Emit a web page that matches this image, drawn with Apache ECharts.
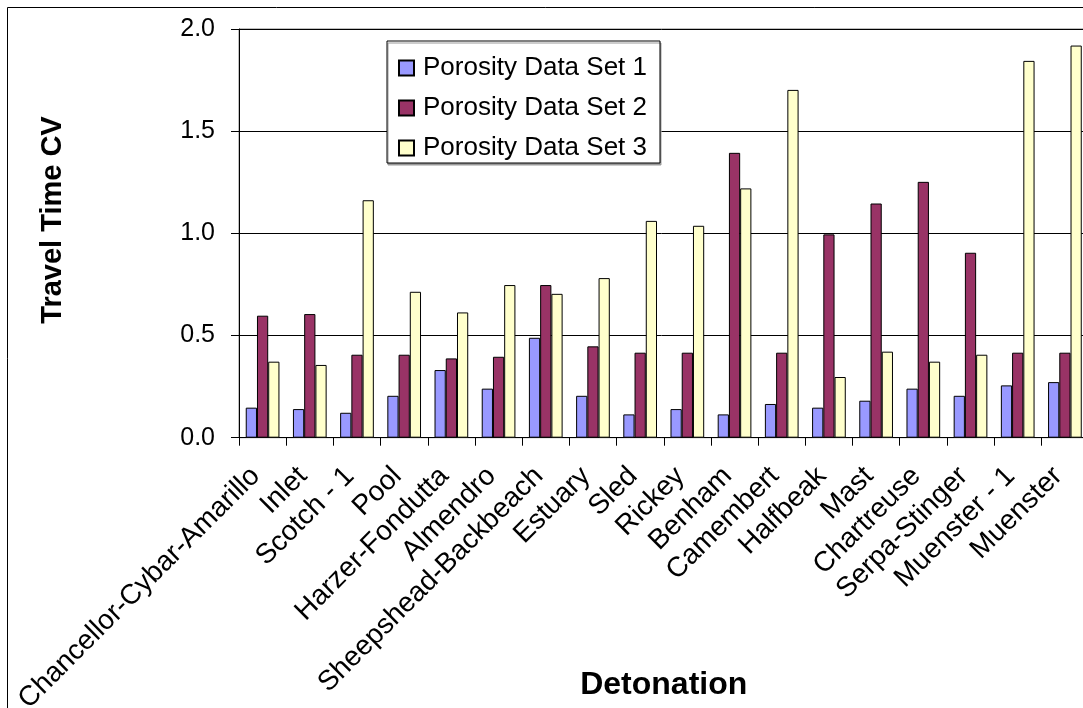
<!DOCTYPE html>
<html>
<head>
<meta charset="utf-8">
<script src="https://cdn.jsdelivr.net/npm/echarts@6/dist/echarts.min.js"></script>
<style>
  html, body { margin: 0; padding: 0; background: #fff; overflow: hidden; }
  #chart { width: 1083px; height: 708px; }
</style>
</head>
<body>
<div id="chart"></div>
<script>
// Detonation names along the category axis
const detonations = [
  'Chancellor-Cybar-Amarillo', 'Inlet', 'Scotch - 1', 'Pool', 'Harzer-Fondutta',
  'Almendro', 'Sheepshead-Backbeach', 'Estuary', 'Sled', 'Rickey', 'Benham',
  'Camembert', 'Halfbeak', 'Mast', 'Chartreuse', 'Serpa-Stinger', 'Muenster - 1', 'Muenster'
];

// Travel time coefficient of variation per porosity data set
const porositySet1 = [0.147, 0.140, 0.122, 0.205, 0.331, 0.240, 0.489, 0.205, 0.114, 0.140, 0.114, 0.165, 0.147, 0.181, 0.240, 0.205, 0.256, 0.272];
const porositySet2 = [0.597, 0.605, 0.406, 0.406, 0.388, 0.396, 0.747, 0.447, 0.416, 0.416, 1.394, 0.416, 0.995, 1.146, 1.252, 0.905, 0.416, 0.416];
const porositySet3 = [0.372, 0.356, 1.162, 0.714, 0.613, 0.747, 0.704, 0.781, 1.061, 1.037, 1.220, 1.702, 0.297, 0.421, 0.372, 0.406, 1.844, 1.919];

const seriesNames = ['Porosity Data Set 1', 'Porosity Data Set 2', 'Porosity Data Set 3'];
const seriesColors = ['#9999FF', '#993366', '#FFFFCC'];

// Value axis ticks
const yMin = 0, yMax = 2, yStep = 0.5;

const FONT = '"Liberation Sans", Arial, Helvetica, sans-serif';

const chart = echarts.init(document.getElementById('chart'), null, { renderer: 'canvas' });

function barSeries(name, data, color) {
  return {
    name: name,
    type: 'bar',
    data: data,
    barGap: '0%',
    barCategoryGap: '28.6%',
    itemStyle: { color: color, borderColor: '#000', borderWidth: 1 },
    emphasis: { disabled: true },
    animation: false
  };
}

chart.setOption({
  backgroundColor: '#fff',
  animation: false,
  textStyle: { fontFamily: FONT },
  grid: {
    left: 239,
    top: 29,
    right: -5.5,
    bottom: 270.3,
    containLabel: false,
    outerBoundsMode: 'none',
    show: true,
    borderColor: '#808080',
    borderWidth: 1,
    backgroundColor: 'transparent'
  },
  legend: {
    orient: 'vertical',
    left: 387,
    top: 41,
    padding: [12, 13, 0, 11],
    itemWidth: 15,
    itemHeight: 15,
    itemGap: 10,
    icon: 'rect',
    backgroundColor: '#fff',
    borderColor: '#000',
    borderWidth: 1,
    shadowColor: '#9a9a9a',
    shadowBlur: 0,
    shadowOffsetX: 1,
    shadowOffsetY: 2,
    selectedMode: false,
    textStyle: {
      fontFamily: FONT,
      fontSize: 26,
      color: '#000',
      lineHeight: 30,
      padding: [0, 0, 0, 4]
    },
    data: seriesNames
  },
  xAxis: {
    type: 'category',
    data: detonations,
    boundaryGap: true,
    name: 'Detonation',
    nameLocation: 'middle',
    nameGap: 231,
    nameMoveOverlap: false,
    nameTextStyle: { fontFamily: FONT, fontSize: 32, fontWeight: 'bold', color: '#000' },
    axisLine: { show: true, lineStyle: { color: '#000', width: 1 } },
    axisTick: { show: true, inside: false, length: 8, lineStyle: { color: '#000' } },
    axisLabel: {
      interval: 0,
      rotate: 45,
      margin: 27,
      padding: [0, 10, 0, 0],
      fontFamily: FONT,
      fontSize: 28,
      color: '#000'
    },
    splitLine: { show: false }
  },
  yAxis: {
    type: 'value',
    min: yMin,
    max: yMax,
    interval: yStep,
    axisLine: { show: true, lineStyle: { color: '#000', width: 1 } },
    axisTick: { show: true, inside: false, length: 8, lineStyle: { color: '#000' } },
    axisLabel: {
      margin: 24,
      fontFamily: FONT,
      fontSize: 25,
      color: '#000',
      formatter: function (v) { return v.toFixed(1); }
    },
    splitLine: { show: true, lineStyle: { color: '#000', width: 1 } }
  },
  graphic: [
    {
      type: 'rect',
      silent: true,
      z: 100,
      shape: { x: 7.5, y: 7.5, width: 3000, height: 3000 },
      style: { fill: 'none', stroke: '#000', lineWidth: 1 }
    },
    {
      type: 'text',
      silent: true,
      x: 53,
      y: 220,
      rotation: Math.PI / 2,
      style: {
        text: 'Travel Time CV',
        fontFamily: FONT,
        fontSize: 29,
        fontWeight: 'bold',
        fill: '#000',
        align: 'center',
        verticalAlign: 'middle'
      }
    }
  ],
  series: [
    barSeries(seriesNames[0], porositySet1, seriesColors[0]),
    barSeries(seriesNames[1], porositySet2, seriesColors[1]),
    barSeries(seriesNames[2], porositySet3, seriesColors[2])
  ]
});
</script>
</body>
</html>
